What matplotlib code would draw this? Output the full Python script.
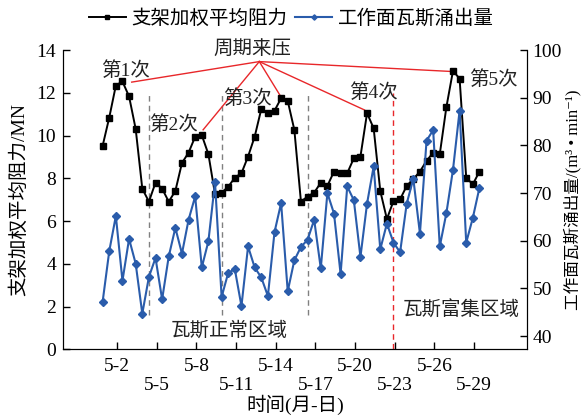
import numpy as np
import matplotlib
matplotlib.use("Agg")
import matplotlib.pyplot as plt

plt.rcParams['font.family'] = ['Liberation Serif', 'Noto Sans CJK SC', 'DejaVu Sans']

# time of each record (day of May), two records per day
t = np.arange(58) * 0.5 + 0.9

# weighted mean support resistance, MN
resist = [9.52, 10.84, 12.34, 12.53, 11.83, 10.31, 7.52, 6.91, 7.80, 7.52,
          6.91, 7.41, 8.72, 9.20, 9.95, 10.02, 9.13, 7.26, 7.33, 7.61,
          8.03, 8.24, 9.02, 9.95, 11.24, 11.05, 11.16, 11.75, 11.62, 10.27,
          6.91, 7.15, 7.33, 7.80, 7.65, 8.32, 8.24, 8.24, 8.94, 9.02,
          11.05, 10.34, 7.41, 6.10, 6.94, 7.02, 7.65, 7.97, 8.32, 8.82,
          9.20, 9.13, 11.33, 13.03, 12.66, 8.03, 7.72, 8.32]

# gas emission at working face, m3/min
gas = [47.2, 57.8, 65.2, 51.6, 60.4, 55.2, 44.7, 52.4, 56.4, 47.7,
       56.7, 62.7, 57.3, 64.4, 69.3, 54.4, 59.9, 72.3, 48.2, 53.3,
       54.0, 46.3, 58.8, 54.4, 52.3, 48.4, 61.8, 67.9, 49.4, 55.9,
       58.7, 60.2, 64.4, 54.2, 70.0, 65.7, 53.0, 71.4, 68.5, 56.6,
       67.8, 75.6, 58.2, 63.6, 59.6, 57.6, 67.8, 73.0, 61.5, 81.0,
       83.2, 58.8, 65.8, 74.9, 87.3, 59.6, 64.8, 71.1]

xticks = [2, 5, 8, 11, 14, 17, 20, 23, 26, 29]
xlabels = ['5-2', '\n5-5', '5-8', '\n5-11', '5-14', '\n5-17', '5-20', '\n5-23', '5-26', '\n5-29']

gray_lines = [4.4, 9.9, 16.4]
rich_line = 22.9

# periodic weighting labels: (text, x, y) and the point the red line goes to
weight_labels = ['第1次', '第2次', '第3次', '第4次', '第5次']
label_x = [2.6, 6.3, 11.85, 21.4, 30.45]
label_y = [13.05, 10.5, 11.75, 12.0, 12.6]
end_x = [3.1, 8.5, 14.3, 20.7, 27.2]
end_y = [12.5, 10.27, 11.9, 11.2, 13.0]
hub = (12.75, 13.46)

fig = plt.figure(figsize=(5.83, 4.17), dpi=100)
ax = fig.add_axes([0.108, 0.162, 0.796, 0.718])
ax2 = ax.twinx()

blue = '#2a5cab'
l1, = ax.plot(t, resist, color='black', lw=1.4, marker='s', ms=5, zorder=5)
l2, = ax2.plot(t, gas, color=blue, lw=1.5, marker='D', ms=4.5, zorder=4)

ax.set_xlim(-2.1, 33.0)
ax.set_ylim(0, 14)
ax2.set_ylim(37.2, 100)
ax.set_yticks(range(0, 15, 2))
ax2.set_yticks(range(40, 101, 10))
ax.set_xticks(xticks)
ax.set_xticklabels(xlabels)

for a in (ax, ax2):
    a.spines['top'].set_visible(False)
    a.tick_params(direction='in', length=5, width=1, labelsize=14, pad=5)
ax.tick_params(axis='x', pad=6)
ax2.tick_params(axis='y', pad=4)

for x in gray_lines:
    ax.plot([x, x], [1.6, 12.0], color='gray', ls='--', lw=1, dashes=(4, 3))
ax.plot([rich_line, rich_line], [0, 12.0], color='#e8272a', ls='--', lw=1, dashes=(4, 3))

red = '#e8272a'
for i in range(5):
    ax.plot([hub[0], end_x[i]], [hub[1], end_y[i]], color=red, lw=1, clip_on=False)
    ax.text(label_x[i], label_y[i], weight_labels[i], fontsize=14,
            ha='center', va='center', color='#222222')
ax.text(12.2, 14.0, '周期来压', fontsize=14, ha='center', va='center',
        color='#222222', clip_on=False)
ax.text(10.5, 0.9, '瓦斯正常区域', fontsize=14, ha='center', va='center', color='#222222')
ax.text(28.0, 1.85, '瓦斯富集区域', fontsize=14, ha='center', va='center', color='#222222')

ax.set_xlabel('时间(月-日)', fontsize=14, labelpad=0)
ax.set_ylabel('支架加权平均阻力/MN', fontsize=14, labelpad=6)
ax2.set_ylabel('工作面瓦斯涌出量/(m³ • min⁻¹)', fontsize=12, labelpad=1)

fig.legend([l1, l2], ['支架加权平均阻力', '工作面瓦斯涌出量'], loc='center',
           bbox_to_anchor=(0.5, 0.955), ncol=2, frameon=False, fontsize=14,
           handlelength=1.9, handletextpad=0.3, columnspacing=0.4, markerscale=0.6)

fig.savefig('out.png', dpi=100)
